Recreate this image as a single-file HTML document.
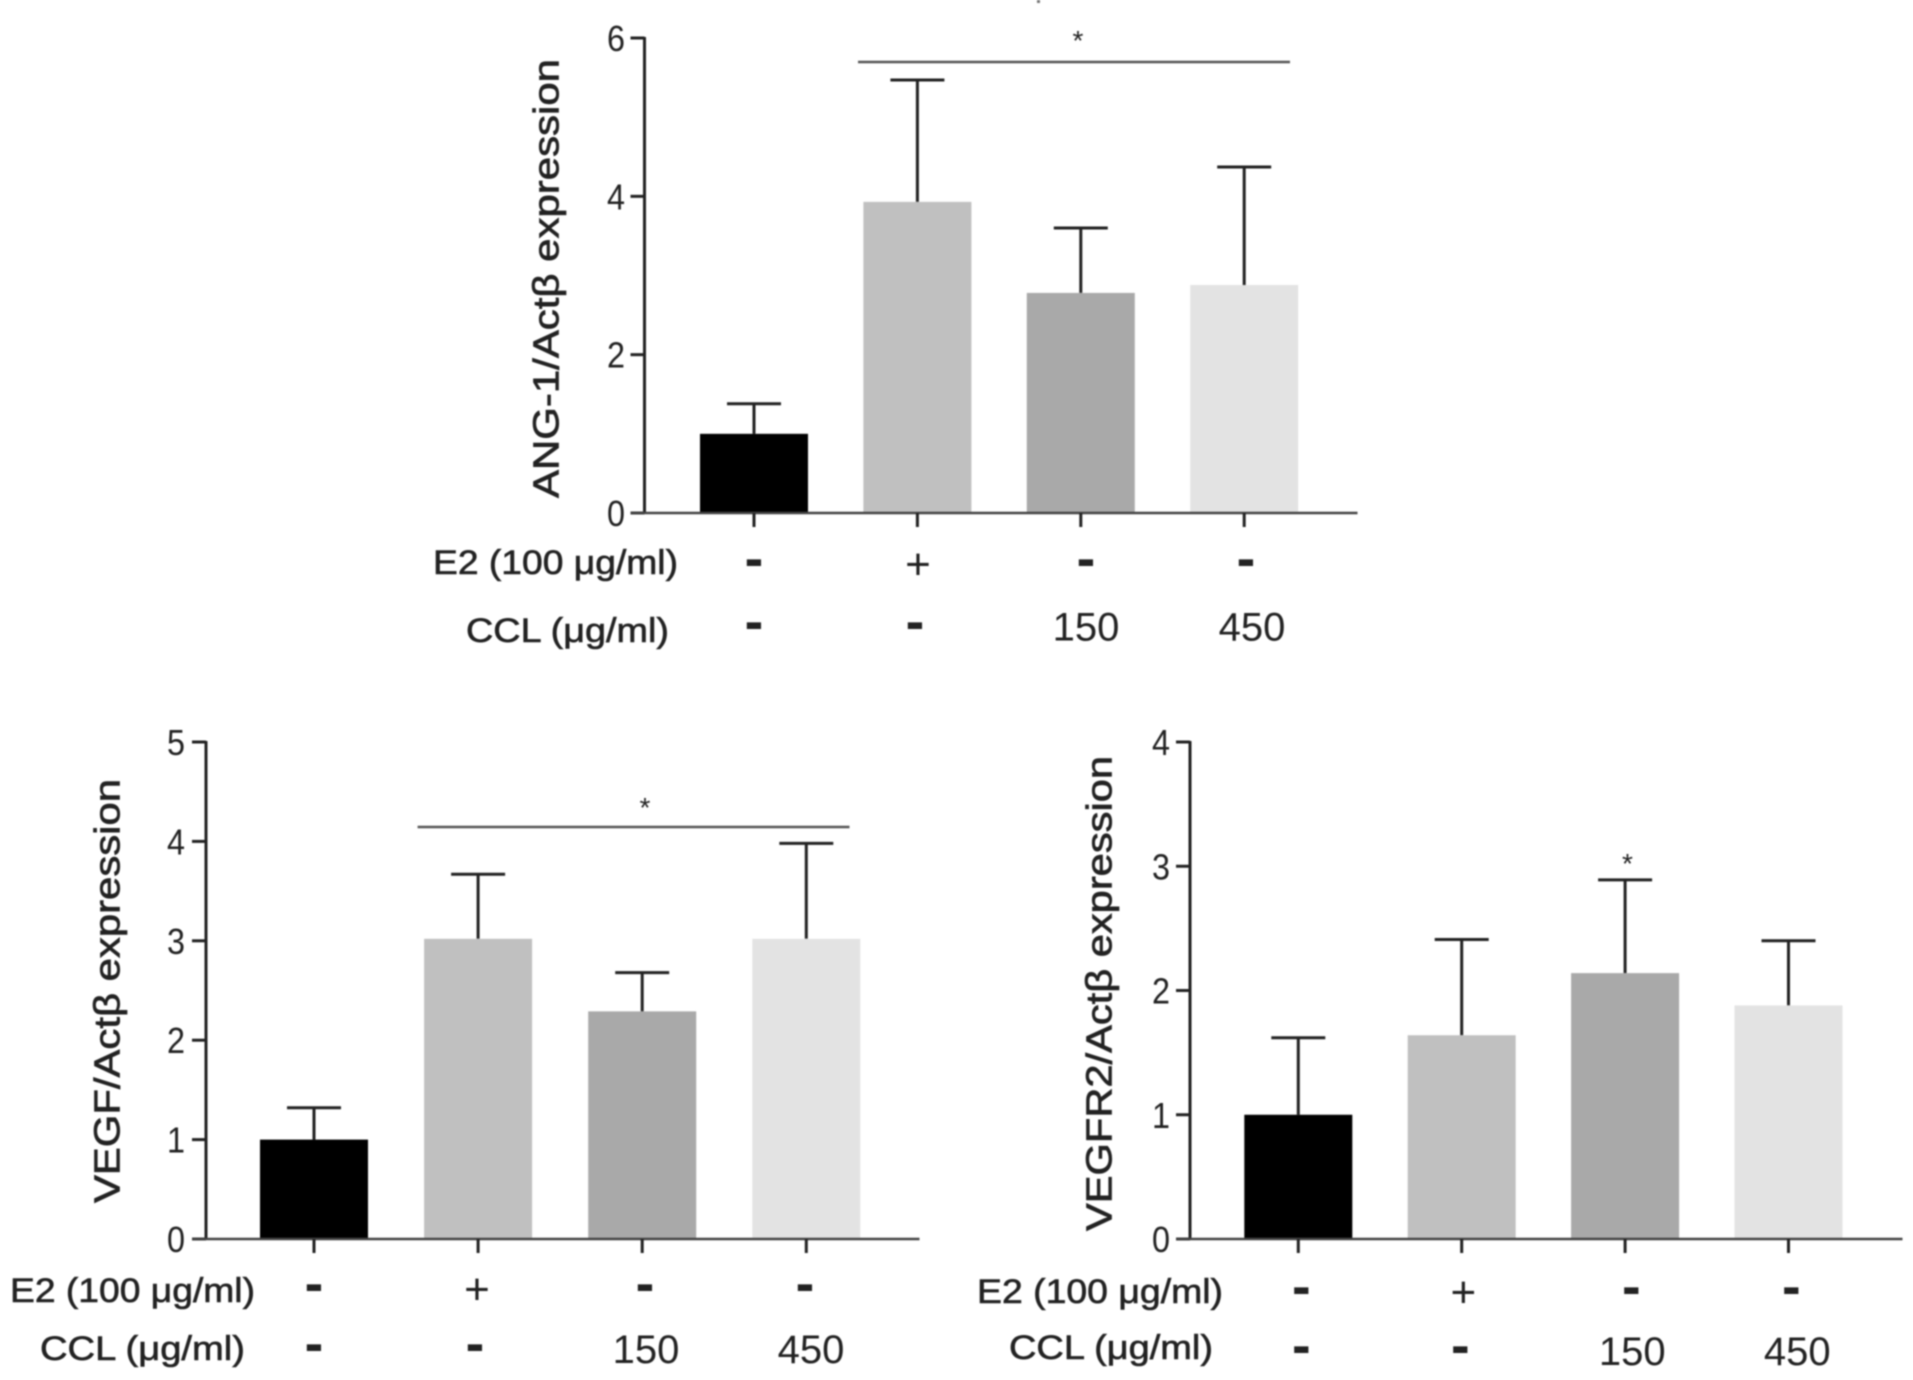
<!DOCTYPE html>
<html lang="en">
<head>
<meta charset="utf-8">
<title>Expression bar charts</title>
<style>
html,body{margin:0;padding:0;background:#fff;}
svg{display:block;filter:blur(0.8px);}
text{font-family:"Liberation Sans",Arial,sans-serif;fill:#222;}
</style>
</head>
<body>
<svg id="figure" xmlns="http://www.w3.org/2000/svg" width="1913" height="1380" viewBox="0 0 1913 1380"></svg>
<script>
const treatments = ['control', 'e2', 'ccl-150', 'ccl-450'];
const e2Row = ['-', '+', '-', '-'];
const cclRow = ['-', '-', '150', '450'];
const barColors = ['#000000', '#c0c0c0', '#a9a9a9', '#e3e3e3'];

const ang1Means = [1.0, 3.93, 2.78, 2.88];
const ang1Errors = [0.38, 1.54, 0.82, 1.49];
const ang1Ticks = [0, 2, 4, 6];

const vegfMeans = [1.0, 3.02, 2.29, 3.02];
const vegfErrors = [0.32, 0.65, 0.39, 0.96];
const vegfTicks = [0, 1, 2, 3, 4, 5];

const vegfr2Means = [1.0, 1.64, 2.14, 1.88];
const vegfr2Errors = [0.62, 0.77, 0.75, 0.52];
const vegfr2Ticks = [0, 1, 2, 3, 4];

const panels = [
  {id:'ang1', title:'ANG-1/Actβ expression', means:ang1Means, errors:ang1Errors, ticks:ang1Ticks,
   axisX:644.5, yTop:38, yZero:513, xEnd:1357.5, firstCenter:754, step:163.4,
   titleX:558.5, titleTop:59, titleBottom:498, tickRight:625,
   sigLine:{x1:858, x2:1290, y:62}, star:{x:1078, y:50},
   e2Label:{x1:433, x2:678, y:574}, cclLabel:{x1:466, x2:669, y:642},
   e2Y:577, cclY:640, e2Dx:[0,164,332,492], cclDx:[0,161,332,498], numY:639.5},
  {id:'vegf', title:'VEGF/Actβ expression', means:vegfMeans, errors:vegfErrors, ticks:vegfTicks,
   axisX:206, yTop:742, yZero:1239, xEnd:919.5, firstCenter:314, step:164.1,
   titleX:119.5, titleTop:779, titleBottom:1203, tickRight:185,
   sigLine:{x1:417.6, x2:849.5, y:827}, star:{x:645, y:817},
   e2Label:{x1:10, x2:255, y:1302}, cclLabel:{x1:40, x2:245, y:1360},
   e2Y:1302, cclY:1362, e2Dx:[0,163,331,491], cclDx:[0,161,332,497], numY:1362},
  {id:'vegfr2', title:'VEGFR2/Actβ expression', means:vegfr2Means, errors:vegfr2Errors, ticks:vegfr2Ticks,
   axisX:1190, yTop:742, yZero:1239, xEnd:1902.5, firstCenter:1298.3, step:163.4,
   titleX:1111.5, titleTop:756, titleBottom:1231, tickRight:1170,
   sigLine:null, star:{x:1627.5, y:873},
   e2Label:{x1:977, x2:1223, y:1303}, cclLabel:{x1:1009, x2:1213, y:1359},
   e2Y:1305, cclY:1364, e2Dx:[3,165,333,493], cclDx:[3,162,334,499], numY:1364}
];

const NS = 'http://www.w3.org/2000/svg';
const root = document.getElementById('figure');

function make(tag, attrs, parent, content) {
  const el = document.createElementNS(NS, tag);
  for (const k in attrs) el.setAttribute(k, attrs[k]);
  if (content !== undefined) el.textContent = content;
  parent.appendChild(el);
  return el;
}

function drawPanel(p) {
  const g = make('g', {}, root);
  
  

  const tickMax = Math.max.apply(null, p.ticks);
  const yScale = function (v) { return p.yZero - (v / tickMax) * (p.yZero - p.yTop); };
  const xScale = function (i) { return p.firstCenter + i * p.step; };
  const barWidth = 108;
  const capWidth = 54;

  // y-axis title
  const midY = (p.titleTop + p.titleBottom) / 2;
  const yTitle = make('text', {
    transform: 'translate(' + p.titleX + ',' + midY + ') rotate(-90)',
    'text-anchor': 'middle', 'font-size': 36, stroke: '#222', 'stroke-width': 0.7,
    textLength: p.titleBottom - p.titleTop, lengthAdjust: 'spacingAndGlyphs'
  }, g, p.title);
  
  

  // error bars behind bars
  p.means.forEach(function (m, i) {
    const cx = xScale(i);
    const top = yScale(m + p.errors[i]);
    const stem = make('line', {x1:cx, x2:cx, y1:yScale(m), y2:top, stroke:'#222', 'stroke-width':3}, g);
    
    
    const cap = make('line', {x1:cx - capWidth / 2, x2:cx + capWidth / 2, y1:top, y2:top, stroke:'#222', 'stroke-width':3}, g);
    
    
  });

  // bars
  p.means.forEach(function (m, i) {
    const bar = make('rect', {
      x: xScale(i) - barWidth / 2, y: yScale(m), width: barWidth,
      height: p.yZero - yScale(m), fill: barColors[i]
    }, g);
    
    
  });

  // y axis + ticks
  const yAxis = make('line', {x1:p.axisX, x2:p.axisX, y1:p.yTop - 1, y2:p.yZero + 1, stroke:'#222', 'stroke-width':3}, g);
  
  
  p.ticks.forEach(function (t) {
    const y = yScale(t);
    const tick = make('line', {x1:p.axisX - 14, x2:p.axisX, y1:y, y2:y, stroke:'#222', 'stroke-width':3}, g);
    
    
    const label = make('text', {x:p.tickRight, y:y + 13, 'text-anchor':'end', 'font-size':36,
      textLength:18, lengthAdjust:'spacingAndGlyphs'}, g, String(t));
    
    
  });

  // x axis + ticks
  const xAxis = make('line', {x1:p.axisX - 14, x2:p.xEnd, y1:p.yZero, y2:p.yZero, stroke:'#444', 'stroke-width':2.6}, g);
  
  
  treatments.forEach(function (name, i) {
    const cx = xScale(i);
    const tick = make('line', {x1:cx, x2:cx, y1:p.yZero, y2:p.yZero + 14, stroke:'#222', 'stroke-width':3}, g);
    
    
  });

  // significance
  if (p.sigLine) {
    const sig = make('line', {x1:p.sigLine.x1, x2:p.sigLine.x2, y1:p.sigLine.y, y2:p.sigLine.y, stroke:'#555', 'stroke-width':2.6}, g);
    
    
  }
  const star = make('text', {x:p.star.x, y:p.star.y, 'text-anchor':'middle', 'font-size':28}, g, '*');
  
  

  // row labels
  const e2Lab = make('text', {x:p.e2Label.x1, y:p.e2Label.y, 'font-size':34, stroke:'#222', 'stroke-width':0.6,
    textLength:p.e2Label.x2 - p.e2Label.x1, lengthAdjust:'spacingAndGlyphs'}, g, 'E2 (100 μg/ml)');
  
  
  const cclLab = make('text', {x:p.cclLabel.x1, y:p.cclLabel.y, 'font-size':34, stroke:'#222', 'stroke-width':0.6,
    textLength:p.cclLabel.x2 - p.cclLabel.x1, lengthAdjust:'spacingAndGlyphs'}, g, 'CCL (μg/ml)');
  
  

  // row values
  function drawCell(value, x, rowY, numY, rowName, i) {
    let attrs;
    if (value === '-') {
      attrs = {x:x, y:rowY, 'text-anchor':'middle', 'font-size':56, 'font-weight':'bold'};
    } else if (value === '+') {
      attrs = {x:x, y:rowY + 2, 'text-anchor':'middle', 'font-size':44};
    } else {
      attrs = {x:x, y:numY + 1, 'text-anchor':'middle', 'font-size':40, fill:'#555'};
    }
    const cell = make('text', attrs, g, value);
    
    
  }
  e2Row.forEach(function (v, i) { drawCell(v, p.firstCenter + p.e2Dx[i], p.e2Y, p.numY, 'e2', i); });
  cclRow.forEach(function (v, i) { drawCell(v, p.firstCenter + p.cclDx[i], p.cclY, p.numY, 'ccl', i); });
}

panels.forEach(drawPanel);

const speck = make('rect', {x:1037, y:0, width:3, height:3, fill:'#777'}, root);


</script>
</body>
</html>
